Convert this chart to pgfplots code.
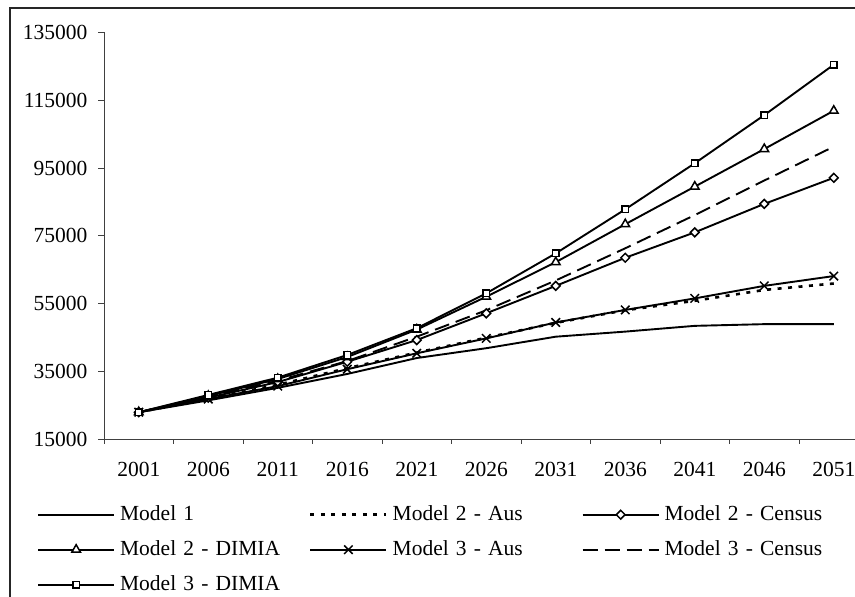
\documentclass[border=0pt]{standalone}
\usepackage{fontspec}
\setmainfont{Liberation Serif}
\usepackage{pgfplots}
\pgfplotsset{compat=1.18}
\pgfplotstableread{
x m1 m2aus m2cen m2dim m3aus m3cen m3dim
0 22900 22900 22900 22900 22900 22900 22900
1 26400 26900 27200 27700 26800 27400 28000
2 30100 31000 31800 32700 30600 32200 33100
3 34200 35900 37800 39200 35600 38000 39800
4 38900 40500 44200 47300 40300 45200 47700
5 41800 44900 52100 57000 44700 53000 58000
6 45200 49300 60200 67200 49400 61800 69800
7 46700 53000 68500 78400 53100 71300 82800
8 48400 55800 76000 89500 56500 81100 96400
9 48900 59000 84400 100600 60200 91300 110600
10 48900 60900 92100 111900 63100 101300 125500
}\data
\begin{document}
\begin{tikzpicture}[x=1bp,y=1bp]
\useasboundingbox (0,0) rectangle (855,597);
\draw[line width=1.8bp, black!85] (10,-20) -- (10,589) -- (880,589);
\begin{axis}[
  at={(104bp,158bp)}, anchor=south west,
  scale only axis, width=764.5bp, height=406.5bp,
  xmin=-0.5, xmax=10.5, ymin=15000, ymax=135000,
  axis x line*=bottom, axis y line*=left,
  axis line style={black!75, line width=0.9bp},
  tick align=outside,
  tick style={black!75, line width=0.9bp},
  major tick length=6bp, minor tick length=5bp,
  xtick={0,...,10},
  xticklabels={2001,2006,2011,2016,2021,2026,2031,2036,2041,2046,2051},
  major x tick style={draw=none},
  minor xtick={-0.5,0.5,...,10.5},
  ytick={15000,35000,...,135000},
  scaled y ticks=false,
  yticklabel style={xshift=-7bp, /pgf/number format/fixed, /pgf/number format/precision=0, /pgf/number format/1000 sep={}, /pgf/number format/assume math mode=true},
  xticklabel style={yshift=-14bp},
  tick label style={font=\fontsize{21.5bp}{26bp}\selectfont},
  clip=false,
  every axis plot/.append style={black, line width=1.9bp, mark options={solid, fill=white, line width=1.5bp}},
  legend columns=3,
  legend cell align=left,
  legend image code/.code={\draw[mark repeat=2,mark phase=2,#1] plot coordinates {(0bp,0bp) (38bp,0bp) (76bp,0bp)};},
  legend style={at={(-0.08764,-0.16236)}, anchor=north west, draw=none, fill=none,
    inner sep=0pt, column sep=0pt, row sep=16bp,
    font=\fontsize{21.5bp}{26bp}\selectfont,
    nodes={inner xsep=5bp, inner ysep=0pt, text width=184bp, align=left, text height=15bp, text depth=4bp}},
]
\addplot[no marks] table[x=x,y=m1]{\data};
\addlegendentry{Model 1}
\addplot[no marks, line width=2.6bp, dash pattern=on 4bp off 6.5bp] table[x=x,y=m2aus]{\data};
\addlegendentry{Model 2 - Aus}
\addplot[mark=square*, mark size=3.1bp, mark options={solid, fill=white, line width=1.5bp, rotate=45}] table[x=x,y=m2cen]{\data};
\addlegendentry{Model 2 - Census}
\addplot[mark=triangle*, mark size=5bp] table[x=x,y=m2dim]{\data};
\addlegendentry{Model 2 - DIMIA}
\addplot[mark=x, mark size=6bp] table[x=x,y=m3aus]{\data};
\addlegendentry{Model 3 - Aus}
\addplot[no marks, dash pattern=on 15bp off 7bp] table[x=x,y=m3cen]{\data};
\addlegendentry{Model 3 - Census}
\addplot[mark=square*, mark size=3.35bp] table[x=x,y=m3dim]{\data};
\addlegendentry{Model 3 - DIMIA}
\end{axis}
\end{tikzpicture}
\end{document}
